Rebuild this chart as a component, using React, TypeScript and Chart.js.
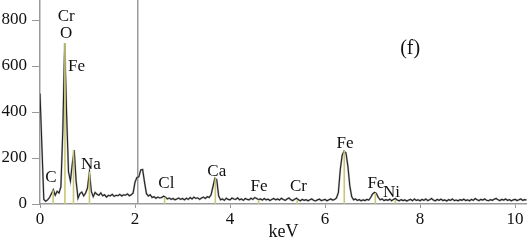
import { useEffect, useRef } from "react";
import { Chart, registerables } from "chart.js";

Chart.register(...registerables);

// Spectrum sampled every STEP_KEV keV, starting at 0 keV
const STEP_KEV = 0.04;
const counts = [
  480, 250, 20, 12, 18, 28, 45, 62, 38, 55, 48, 75, 320, 700, 390, 140, 100, 175, 235, 100, 25, 45, 52, 35, 48,
  70, 140, 55, 32, 50, 42, 38, 48, 36, 40, 30, 38, 35, 42, 33, 38, 36, 42, 35, 40, 38, 44, 36, 40, 48,
  95, 115, 118, 148, 150, 95, 45, 35, 40, 28, 32, 25, 30, 26, 28, 34, 30, 22, 26, 20, 24, 18, 22, 26, 20,
  24, 18, 25, 20, 28, 22, 30, 24, 27, 20, 26, 30, 24, 32, 28, 40, 75, 112, 105, 35, 18, 22, 16, 25, 20,
  18, 26, 22, 20, 27, 18, 22, 16, 24, 20, 18, 25, 20, 28, 24, 19, 22, 17, 24, 18, 21, 15, 20, 24, 18,
  22, 17, 25, 20, 16, 22, 26, 18, 15, 21, 25, 18, 14, 20, 16, 19, 14, 18, 22, 16, 13, 18, 21, 15, 17,
  20, 14, 18, 22, 17, 20, 26, 50, 150, 212, 230, 222, 165, 80, 32, 18, 22, 16, 19, 14, 18, 15, 20, 17, 28,
  44, 50, 46, 28, 18, 22, 15, 19, 16, 21, 14, 20, 24, 17, 14, 19, 15, 18, 13, 17, 20, 14, 22, 16, 18,
  14, 20, 16, 22, 15, 18, 24, 17, 14, 20, 16, 21, 15, 18, 13, 19, 16, 22, 15, 17, 14, 19, 16, 21, 15,
  18, 14, 20, 16, 24, 18, 15, 20, 17, 22, 16, 14, 19, 16, 21, 24, 18, 15, 20, 17, 22, 16, 19, 14, 18,
  20, 15, 18, 22, 16, 19, 17,
];

// Element marker lines (keV, height in counts)
const markerKeV = [0.277, 0.525, 0.705, 1.041, 2.622, 3.691, 4.6, 5.414, 6.404, 7.058, 7.478];
const markerCounts = [60, 700, 235, 140, 30, 112, 18, 16, 230, 48, 16];

// Peak labels
const labelText = ["Cr", "O", "Fe", "Na", "C", "Cl", "Ca", "Fe", "Cr", "Fe", "Fe", "Ni"];
const labelKeV = [0.55, 0.55, 0.77, 1.07, 0.23, 2.66, 3.72, 4.61, 5.44, 6.42, 7.07, 7.4];
const labelCounts = [813, 743, 596, 170, 113, 87, 143, 74, 74, 265, 91, 52];

const panelTag = "(f)";
const panelKeV = 7.79;
const panelCounts = 674;

const cursorKeV = 2.057;

const xTicks = [0, 2, 4, 6, 8, 10];
const yTicks = [0, 200, 400, 600, 800];
const xMax = 10.25;
const yMax = 887;

const SERIF = '"Liberation Serif", "Times New Roman", serif';

export default function App() {
  const ref = useRef<HTMLCanvasElement | null>(null);

  useEffect(() => {
    if (!ref.current) return;
    const spectrum = counts.map((c, i) => ({ x: i * STEP_KEV, y: c }));
    const markers: { x: number; y: number | null }[] = [];
    markerKeV.forEach((e, i) => {
      markers.push({ x: e, y: 0 });
      markers.push({ x: e, y: markerCounts[i] });
      markers.push({ x: e, y: null });
    });

    const annot = {
      id: "annot",
      beforeDatasetsDraw(chart: any) {
        const { ctx, chartArea, scales } = chart;
        const px = scales.x.getPixelForValue(cursorKeV);
        ctx.save();
        ctx.strokeStyle = "#9a9a9a";
        ctx.lineWidth = 1.5;
        ctx.beginPath();
        ctx.moveTo(px, chartArea.top);
        ctx.lineTo(px, chartArea.bottom);
        ctx.stroke();
        ctx.restore();
      },
      afterDatasetsDraw(chart: any) {
        const { ctx, scales } = chart;
        ctx.save();
        ctx.fillStyle = "#111";
        ctx.textAlign = "center";
        ctx.textBaseline = "middle";
        ctx.font = `17px ${SERIF}`;
        labelText.forEach((t, i) => {
          ctx.fillText(t, scales.x.getPixelForValue(labelKeV[i]), scales.y.getPixelForValue(labelCounts[i]));
        });
        ctx.font = `20px ${SERIF}`;
        ctx.fillText(panelTag, scales.x.getPixelForValue(panelKeV), scales.y.getPixelForValue(panelCounts));
        ctx.restore();
      },
    };

    const chart = new Chart(ref.current, {
      type: "line",
      data: {
        datasets: [
          {
            data: markers as any,
            borderColor: "#c8c878",
            borderWidth: 1.6,
            pointRadius: 0,
            spanGaps: false,
            tension: 0,
          },
          {
            data: spectrum,
            borderColor: "#222",
            borderWidth: 1.1,
            pointRadius: 0,
            tension: 0,
          },
          {
            data: spectrum,
            borderColor: "#bdbdbd",
            borderWidth: 2,
            pointRadius: 0,
            tension: 0,
          },
        ],
      },
      options: {
        animation: false,
        responsive: true,
        maintainAspectRatio: false,
        layout: { padding: 0 },
        plugins: { legend: { display: false }, tooltip: { enabled: false } },
        scales: {
          x: {
            type: "linear",
            min: 0,
            max: xMax,
            afterBuildTicks: (s: any) => {
              s.ticks = xTicks.map((v) => ({ value: v }));
            },
            afterFit: (s: any) => {
              s.height = 39;
              s.paddingLeft = 0;
              s.paddingRight = 0;
            },
            grid: { drawOnChartArea: false, drawTicks: true, tickLength: 4, color: "#999", lineWidth: 1 },
            border: { display: true, color: "#999", width: 1.5 },
            ticks: {
              autoSkip: false,
              maxRotation: 0,
              padding: 1,
              color: "#111",
              font: { family: SERIF, size: 17 },
              callback: (v: any) => String(v),
            },
            title: {
              display: true,
              text: "keV",
              color: "#111",
              font: { family: SERIF, size: 18 },
              padding: { top: 0, bottom: 0 },
            },
          },
          y: {
            type: "linear",
            min: 0,
            max: yMax,
            afterBuildTicks: (s: any) => {
              s.ticks = yTicks.map((v) => ({ value: v }));
            },
            afterFit: (s: any) => {
              s.width = 40;
              s.paddingTop = 0;
              s.paddingBottom = 0;
            },
            grid: { drawOnChartArea: false, drawTicks: true, tickLength: 8, color: "#999", lineWidth: 1 },
            border: { display: true, color: "#999", width: 1.5 },
            ticks: {
              autoSkip: false,
              padding: 5,
              color: "#111",
              font: { family: SERIF, size: 17 },
              callback: (v: any) => String(v),
            },
          },
        },
      },
      plugins: [annot],
    });
    return () => chart.destroy();
  }, []);

  return (
    <div style={{ position: "fixed", left: 0, top: 0, width: 527, height: 243, background: "#fff" }}>
      <canvas ref={ref} />
    </div>
  );
}
